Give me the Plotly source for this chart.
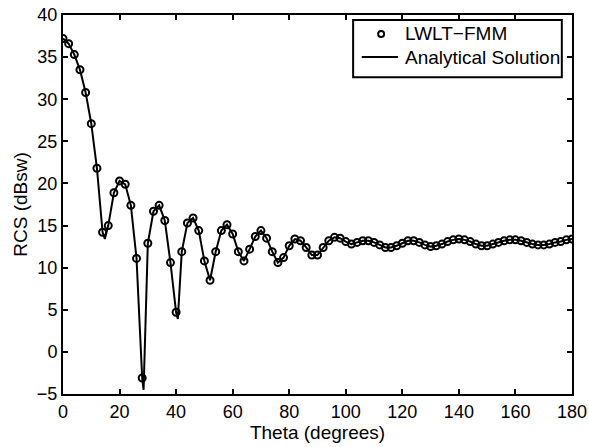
import plotly.graph_objects as go

# Marker data: LWLT-FMM, every 2 degrees
theta_fmm = list(range(0, 181, 2))
rcs_fmm = [
    37.2, 36.6, 35.3, 33.5, 30.8, 27.1, 21.8, 14.2, 15.0, 18.9,
    20.3, 19.9, 17.4, 11.1, -3.1, 12.9, 16.7, 17.4, 15.6, 10.6,
    4.7, 11.9, 15.3, 15.9, 14.4, 10.8, 8.5, 11.9, 14.4, 15.1,
    14.0, 11.9, 10.8, 12.2, 13.7, 14.4, 13.5, 11.9, 10.6, 11.2,
    12.6, 13.4, 13.2, 12.4, 11.5, 11.5, 12.4, 13.2, 13.6, 13.5,
    13.1, 12.8, 13.0, 13.2, 13.2, 13.0, 12.7, 12.4, 12.4, 12.6,
    12.9, 13.2, 13.2, 13.0, 12.7, 12.5, 12.6, 12.8, 13.1, 13.3,
    13.4, 13.3, 13.1, 12.8, 12.6, 12.6, 12.8, 13.0, 13.2, 13.3,
    13.3, 13.2, 13.0, 12.8, 12.7, 12.7, 12.8, 13.0, 13.1, 13.3,
    13.4,
]

# Analytical solution: same samples plus sharper nulls
null_theta = [14.8, 28.5, 40.6]
null_rcs = [13.4, -4.5, 3.9]

pairs = sorted(list(zip(theta_fmm, rcs_fmm)) + list(zip(null_theta, null_rcs)))
theta_an = [p[0] for p in pairs]
rcs_an = [p[1] for p in pairs]

x_ticks = list(range(0, 181, 20))
y_ticks = list(range(-5, 41, 5))
y_tick_text = ["\u22125" if v < 0 else str(v) for v in y_ticks]

legend_labels = ["LWLT\u2212FMM", "Analytical Solution"]

FONT = "Liberation Sans, Arial, Helvetica, sans-serif"

fig = go.Figure()
fig.add_trace(go.Scatter(
    x=theta_fmm, y=rcs_fmm, mode="markers", name=legend_labels[0],
    marker=dict(symbol="circle-open", size=7, color="black",
                line=dict(color="black", width=2)),
    showlegend=False,
))
fig.add_trace(go.Scatter(
    x=theta_an, y=rcs_an, mode="lines", name=legend_labels[1],
    line=dict(color="black", width=2),
    showlegend=False,
))

axis_common = dict(
    showline=True, linecolor="black", linewidth=2, mirror="ticks",
    ticks="inside", ticklen=5, tickwidth=1.5, tickcolor="black",
    showgrid=False, zeroline=False, automargin=False,
    tickfont=dict(family=FONT, size=18, color="black"),
)

fig.update_xaxes(range=[0, 180], tickvals=x_ticks,
                 title=dict(text="Theta (degrees)", standoff=0,
                            font=dict(family=FONT, size=19, color="black")),
                 **axis_common)
fig.update_yaxes(range=[-5, 40], tickvals=y_ticks, ticktext=y_tick_text,
                 title=dict(text="RCS (dBsw)", standoff=4,
                            font=dict(family=FONT, size=19, color="black")),
                 **axis_common)

# Legend box (drawn manually to match the compact MATLAB legend)
shapes = [
    dict(type="rect", xref="paper", yref="paper",
         x0=0.570, x1=0.980, y0=0.836, y1=0.987,
         line=dict(color="black", width=2), fillcolor="white", layer="above"),
    dict(type="circle", xref="paper", yref="paper",
         xsizemode="pixel", ysizemode="pixel", xanchor=0.625, yanchor=0.950,
         x0=-3, x1=3, y0=-3, y1=3,
         line=dict(color="black", width=2), layer="above"),
    dict(type="line", xref="paper", yref="paper",
         x0=0.587, x1=0.658, y0=0.889, y1=0.889,
         line=dict(color="black", width=2), layer="above"),
]
annotations = [
    dict(text=legend_labels[0], xref="paper", yref="paper", x=0.668, y=0.950,
         xanchor="left", yanchor="middle", showarrow=False,
         font=dict(family=FONT, size=19, color="black")),
    dict(text=legend_labels[1], xref="paper", yref="paper", x=0.668, y=0.889,
         xanchor="left", yanchor="middle", showarrow=False,
         font=dict(family=FONT, size=19, color="black")),
]

fig.update_layout(
    width=589, height=447,
    margin=dict(l=63, r=17, t=15, b=53),
    plot_bgcolor="white", paper_bgcolor="white",
    font=dict(family=FONT, size=18, color="black"),
    shapes=shapes, annotations=annotations,
    showlegend=False,
)

fig.write_html("out.html")
